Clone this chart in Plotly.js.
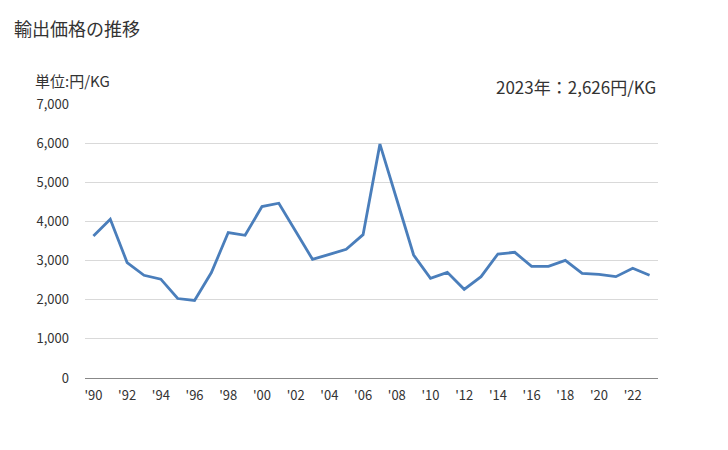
<!DOCTYPE html>
<html><head><meta charset="utf-8">
<script src="https://cdn.plot.ly/plotly-3.0.1.min.js"></script>
<style>html,body{margin:0;padding:0;background:#fff}#c{width:728px;height:450px}</style>
</head><body><div id="c"></div>
<script>
const years = [1990,1991,1992,1993,1994,1995,1996,1997,1998,1999,2000,2001,2002,2003,2004,2005,2006,2007,2008,2009,2010,2011,2012,2013,2014,2015,2016,2017,2018,2019,2020,2021,2022,2023];
const prices = [3630,4055,2950,2625,2525,2030,1980,2695,3715,3645,4380,4465,3750,3032,3160,3288,3662,5975,4560,3142,2546,2699,2265,2589,3168,3211,2853,2853,3006,2674,2649,2589,2802,2626];
const tickYears = [1990,1992,1994,1996,1998,2000,2002,2004,2006,2008,2010,2012,2014,2016,2018,2020,2022];
const tickLabels = ["'90","'92","'94","'96","'98","'00","'02","'04","'06","'08","'10","'12","'14","'16","'18","'20","'22"];
const yTicks = [0,1000,2000,3000,4000,5000,6000,7000];
const yLabels = ["0","1,000","2,000","3,000","4,000","5,000","6,000","7,000"];
const F = '"Noto Sans CJK JP", "Noto Sans", sans-serif';
const PW = 573, PH = 274, ML = 85;
Plotly.newPlot('c', [{
  x: years, y: prices, type: 'scatter', mode: 'lines',
  line: {color: '#4a7ebb', width: 2.8}, hoverinfo: 'skip'
}], {
  width: 728, height: 450,
  margin: {l: ML, r: 70, t: 104, b: 72},
  paper_bgcolor: '#fff', plot_bgcolor: '#fff',
  showlegend: false,
  font: {family: F, color: '#333', size: 13},
  xaxis: {range: [1989.5, 2023.5], tickvals: tickYears, ticktext: tickLabels,
    showgrid: false, zeroline: false, showline: false, ticks: '',
    tickfont: {size: 13, color: '#333'}, ticklabelstandoff: 8, fixedrange: true},
  yaxis: {range: [0, 7000], tickvals: yTicks, ticktext: yLabels,
    showgrid: true, gridcolor: '#d9d9d9', gridwidth: 1, zeroline: true, zerolinecolor: '#888', zerolinewidth: 1,
    showline: false, ticks: '', tickfont: {size: 13, color: '#333'}, ticklabelstandoff: 15, fixedrange: true},
  annotations: [
    {text: '輸出価格の推移', xref: 'paper', yref: 'paper', x: (12 - ML) / PW, y: 1 + 76 / PH, xanchor: 'left', yanchor: 'middle', showarrow: false, font: {family: F, size: 18, color: '#333'}},
    {text: '単位:円/KG', xref: 'paper', yref: 'paper', x: (33 - ML) / PW, y: 1 + 24 / PH, xanchor: 'left', yanchor: 'middle', showarrow: false, font: {family: F, size: 15, color: '#333'}},
    {text: '2023年：2,626円/KG', xref: 'paper', yref: 'paper', x: 1, y: 1 + 17 / PH, xanchor: 'right', yanchor: 'middle', showarrow: false, font: {family: F, size: 17, color: '#333'}}
  ]
}, {displayModeBar: false, staticPlot: true});
</script></body></html>
